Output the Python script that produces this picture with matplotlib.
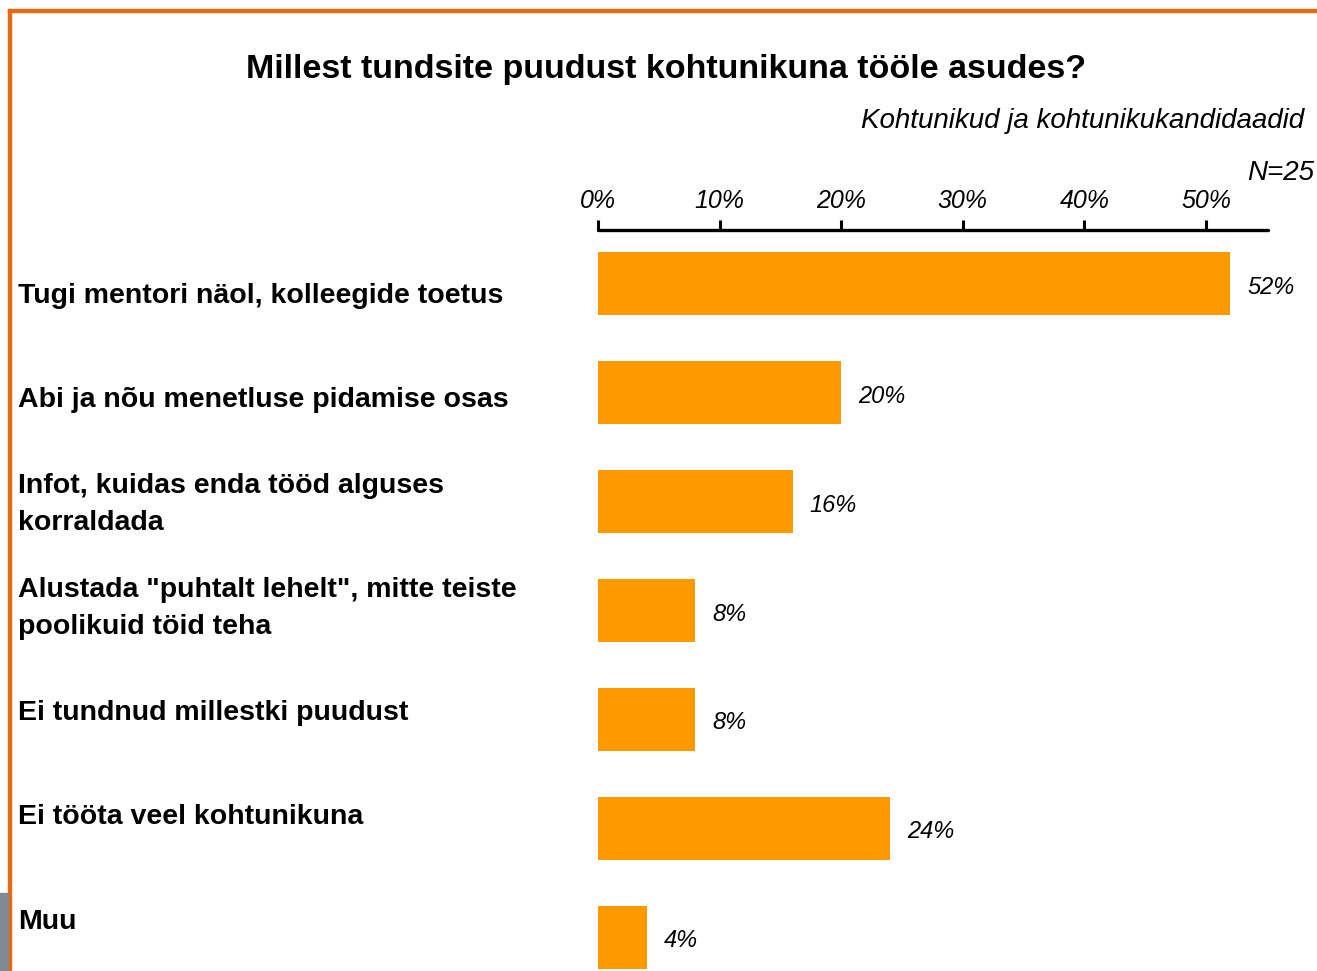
import matplotlib.pyplot as plt
import matplotlib.patches as mpatches

categories = [
    "Tugi mentori näol, kolleegide toetus",
    "Abi ja nõu menetluse pidamise osas",
    "Infot, kuidas enda tööd alguses\nkorraldada",
    "Alustada \"puhtalt lehelt\", mitte teiste\npoolikuid töid teha",
    "Ei tundnud millestki puudust",
    "Ei tööta veel kohtunikuna",
    "Muu",
]
values = [52, 20, 16, 8, 8, 24, 4]
ticks = [0, 10, 20, 30, 40, 50]

plt.rcParams['font.family'] = ['Liberation Sans', 'DejaVu Sans']

fig = plt.figure(figsize=(13.17, 9.71), dpi=100)
W, H = 1317, 971

# frame decoration
fig.patches.append(mpatches.Rectangle((8 / W, 0), 3 / W, 1 - 9 / H, transform=fig.transFigure,
                                      color='#E8690F', zorder=0))
fig.patches.append(mpatches.Rectangle((8 / W, 1 - 12 / H), 1, 3 / H, transform=fig.transFigure,
                                      color='#E8690F', zorder=0))
fig.patches.append(mpatches.Rectangle((0, 0), 8 / W, 78 / H, transform=fig.transFigure,
                                      color='#7F8A93', zorder=0))

ax = fig.add_axes([598 / W, 0, 670 / W, 1 - 230 / H])
y = list(range(len(values)))
ax.barh(y, values, height=0.578, color='#FF9900', zorder=2)
ax.set_xlim(0, 55.1)
ax.set_ylim(6.307, -0.495)

for s in ['right', 'bottom', 'left']:
    ax.spines[s].set_visible(False)
ax.spines['top'].set_linewidth(2.4)
ax.spines['top'].set_capstyle('round')
ax.xaxis.tick_top()
ax.set_xticks(ticks)
ax.set_xticklabels([f"{t}%" for t in ticks], fontsize=18, style='italic')
ax.tick_params(axis='x', direction='out', length=7.5, width=2.2, pad=5)
ax.set_yticks([])

for i, v in enumerate(values):
    ax.text(v + 1.4, i + 0.03, f"{v}%", va='center', ha='left', fontsize=17, style='italic')

# category labels
for i, c in enumerate(categories):
    fig.text(18 / W, 1 - (296 + 104.3 * i) / H, c, ha='left', va='center',
             fontsize=20.5, fontweight='bold', linespacing=1.55)

fig.text(666 / W, 1 - 69 / H, "Millest tundsite puudust kohtunikuna tööle asudes?",
         ha='center', va='center', fontsize=24.5, fontweight='bold')
fig.text(1304 / W, 1 - 121 / H, "Kohtunikud ja kohtunikukandidaadid",
         ha='right', va='center', fontsize=20, style='italic')
fig.text(1314 / W, 1 - 173 / H, "N=25", ha='right', va='center', fontsize=20, style='italic')

fig.savefig("out.png", dpi=100)
